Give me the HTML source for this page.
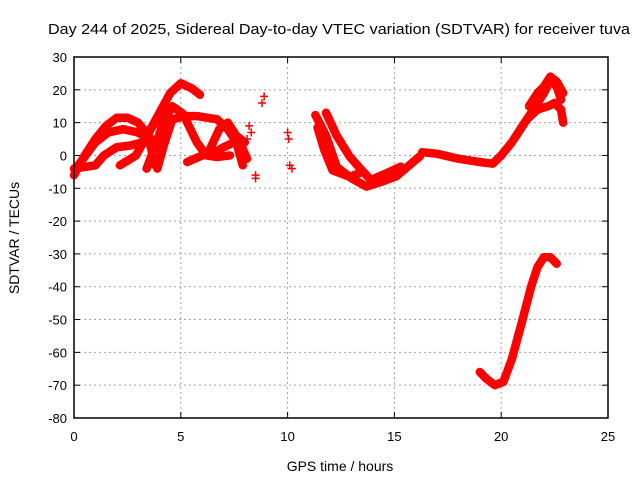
<!DOCTYPE html>
<html><head><meta charset="utf-8"><style>
body{margin:0;background:#fff;}
svg{display:block;font-family:"Liberation Sans",Arial,sans-serif;}
</style></head><body>
<svg id="chart" width="640" height="480">
<text x="339" y="34" font-size="15" text-anchor="middle" textLength="582" lengthAdjust="spacingAndGlyphs">Day 244 of 2025, Sidereal Day-to-day VTEC variation (SDTVAR) for receiver tuva</text>
<text x="340" y="471" font-size="14" text-anchor="middle">GPS time / hours</text>
<text x="19" y="238" font-size="14" text-anchor="middle" transform="rotate(-90 19 238)">SDTVAR / TECUs</text>
<g id="grid"></g><g id="ticks"></g><g id="series"></g>
<rect x="74" y="57" width="534" height="361" fill="none" stroke="#000" stroke-width="1.5"/>
</svg>
<script>
const xTicks=[0,5,10,15,20,25];
const yTicks=[30,20,10,0,-10,-20,-30,-40,-50,-60,-70,-80];
const seriesA=[[0,-6],[0.5,0],[1,5],[1.5,9],[2,11.5],[2.5,11.5],[3,10],[3.5,6],[3.8,2]];
const seriesB=[[2.15,-3],[2.9,0],[3.5,7],[4,13],[4.5,19],[5,22],[5.5,20.5],[5.9,18.5]];
const seriesC=[[3.4,-4],[3.8,3],[4.2,10],[4.6,15],[5.1,12.7],[5.75,4],[6.2,0],[6.7,-0.5],[7.3,0]];
const seriesD=[[3.9,-4],[4.2,3],[4.6,11],[5.2,12],[5.75,12],[6.7,11],[7.2,8],[7.6,4],[7.9,-3]];
const seriesE=[[0,-4],[1,-3],[1.4,0],[2,2.5],[2.6,3],[3.2,4],[3.6,8],[4.2,14]];
const seriesF=[[0.2,-3],[1,4],[1.6,7],[2.3,8],[3,7],[3.5,5],[3.8,-3]];
const seriesG=[[5.3,-2],[6,0],[6.6,1],[7,2.5],[7.5,4],[7.9,2],[8.1,-1]];
const seriesH=[[6.3,1],[6.8,8],[7.2,10],[7.6,6],[8,4]];
const seriesM1=[[11.3,12.3],[11.8,6],[12.3,-3.5],[13,-7],[13.7,-9.5],[14.4,-8],[15.1,-6.3],[15.7,-3],[16.2,-0.2]];
const seriesM2=[[11.8,13],[12.3,6],[12.9,-0.3],[13.4,-4],[13.9,-7.5],[14.6,-5.5],[15.3,-3.4]];
const seriesM3=[[11.4,8.5],[11.7,2],[12.1,-4.5],[12.9,-6.5],[13.5,-5]];
const seriesL1=[[16.3,1],[17,0.5],[18,-1],[19,-2],[19.6,-2.5],[20,0],[20.5,4],[21,9],[21.5,14],[22,19],[22.3,23],[22.6,21],[22.8,17]];
const seriesL2=[[20.6,5],[21.2,11],[21.7,14],[22.2,15],[22.5,16],[22.8,14],[22.9,10]];
const seriesL3=[[21.3,15],[21.7,19],[22,21],[22.3,24],[22.6,22.5],[22.9,19]];
const seriesLow=[[19,-66],[19.3,-68],[19.7,-70],[20.1,-69],[20.5,-62],[21,-50],[21.4,-40],[21.7,-34],[22,-31],[22.3,-31],[22.6,-33]];
const seriesDots=[[8.5,-6],[8.5,-7],[8.8,16],[8.9,18],[10,7],[10.05,5],[10.1,-3],[10.2,-4],[8.2,9],[8.3,7],[8.1,5]];
const allLines=[seriesA,seriesB,seriesC,seriesD,seriesE,seriesF,seriesG,seriesH,seriesM1,seriesM2,seriesM3,seriesL1,seriesL2,seriesL3,seriesLow];
const NS="http://www.w3.org/2000/svg";
const X0=74,X1=608,Y0=418,Y1=57;
function xs(t){return X0+(t-0)/25*(X1-X0);}
function ys(v){return Y0-(v+80)/110*(Y0-Y1);}
function mk(tag,a,parent){const e=document.createElementNS(NS,tag);for(const k in a)e.setAttribute(k,a[k]);parent.appendChild(e);return e;}
const grid=document.getElementById('grid'),ticks=document.getElementById('ticks'),ser=document.getElementById('series');
xTicks.forEach(t=>{const x=xs(t);
 if(t>0&&t<25){const g=mk('line',{x1:x,x2:x,y1:Y1,y2:Y0,stroke:'#a0a0a0','stroke-dasharray':'2,3'},grid);
 
 }
 mk('line',{x1:x,x2:x,y1:Y0,y2:Y0-6,stroke:'#000'},ticks);mk('line',{x1:x,x2:x,y1:Y1,y2:Y1+6,stroke:'#000'},ticks);
 const tx=mk('text',{x:x,y:Y0+23,'font-size':13,'text-anchor':'middle'},ticks);tx.textContent=t;
 
 });
yTicks.forEach(v=>{const y=ys(v);
 if(v<30&&v>-80){const g=mk('line',{x1:X0,x2:X1,y1:y,y2:y,stroke:'#a0a0a0','stroke-dasharray':'2,3'},grid);
 
 }
 mk('line',{x1:X0,x2:X0+6,y1:y,y2:y,stroke:'#000'},ticks);mk('line',{x1:X1,x2:X1-6,y1:y,y2:y,stroke:'#000'},ticks);
 const tx=mk('text',{x:X0-7,y:y+5,'font-size':13,'text-anchor':'end'},ticks);tx.textContent=v;
 
 });
allLines.forEach((s,i)=>{const p=mk('polyline',{points:s.map(d=>xs(d[0])+','+ys(d[1])).join(' '),fill:'none',stroke:'#ff0000','stroke-width':8.5,'stroke-linejoin':'round','stroke-linecap':'round'},ser);
 
 });
seriesDots.forEach(d=>{const x=xs(d[0]),y=ys(d[1]);
 const p=mk('path',{d:`M${x-4},${y}H${x+4}M${x},${y-4}V${y+4}`,stroke:'#ff0000','stroke-width':1.5},ser);
 
 });
</script>
</body></html>
